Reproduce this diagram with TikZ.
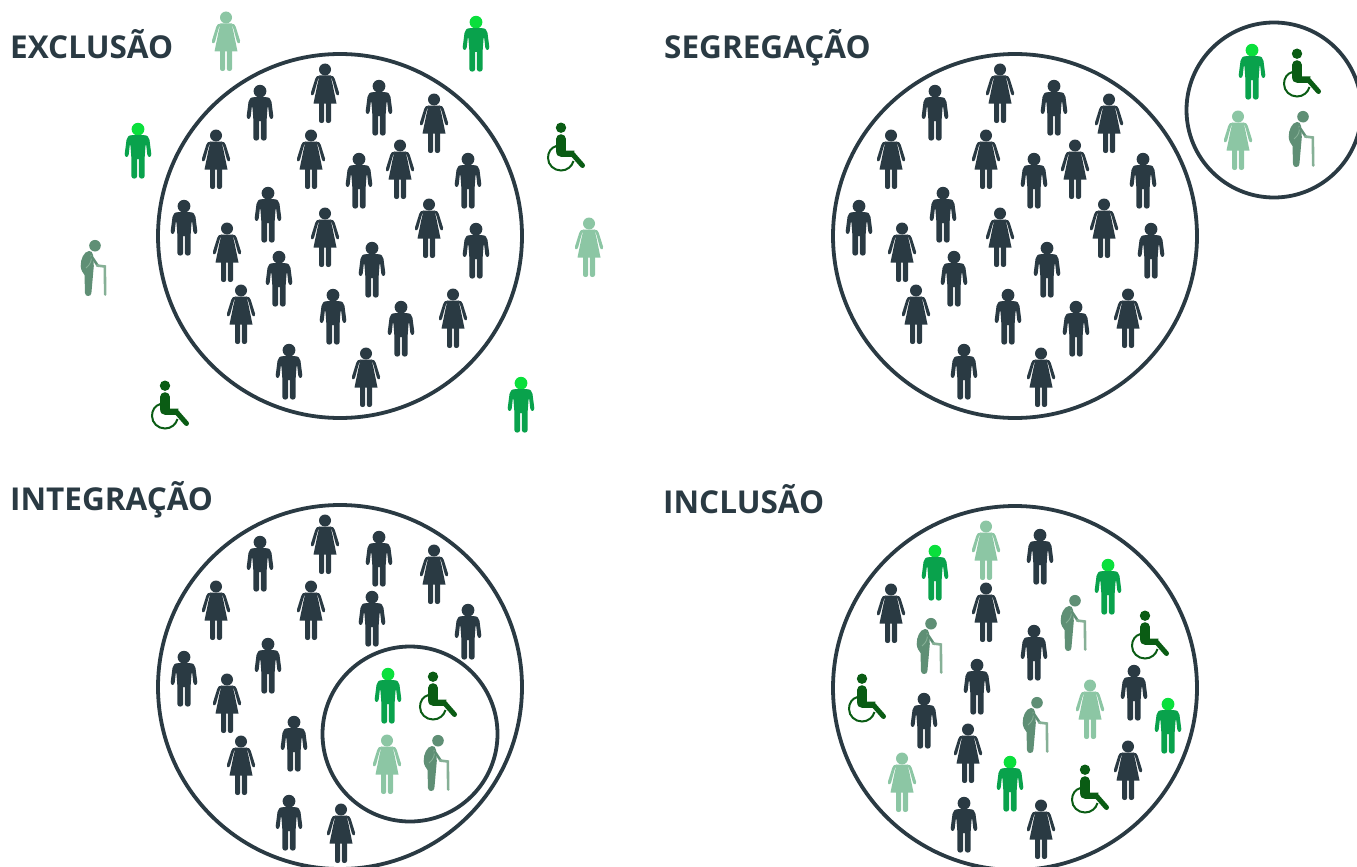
\documentclass[tikz,border=0pt]{standalone}
\usepackage{fontspec}
\setmainfont{Open Sans}
\definecolor{ink}{HTML}{2A3A43}
\definecolor{mangreen}{HTML}{09A24C}
\definecolor{headgreen}{HTML}{0ADF3C}
\definecolor{wheelgreen}{HTML}{0A5C14}
\definecolor{lightgreen}{HTML}{8CC6A4}
\definecolor{eldergreen}{HTML}{5F8F75}
\definecolor{canegreen}{HTML}{86B096}
\tikzset{
  ring/.style={draw=ink,line width=3.8pt,fill=none},
  paneltitle/.style={anchor=base west,font=\bfseries\fontsize{31.5}{32}\selectfont,text=ink,inner sep=0pt},
  pics/manshape/.style n args={2}{code={
    \fill[#2] (0,6.2) circle (6.4);
    \foreach \s in {1,-1}{
      \fill[#1,xscale=\s] (0,12.2) -- (6,12.2) .. controls (9.5,12.2) and (11,14) .. (11.5,17)
        -- (13.3,31) .. controls (13.5,34.5) and (9.8,35) .. (9.3,31.5) -- (8.2,22) -- (7.6,22)
        -- (6.7,34) -- (6.7,53) .. controls (6.7,56.5) and (0.8,56.5) .. (0.8,53) -- (0.8,36) -- (0,36) -- cycle;
    }
  }},
  pics/womanshape/.style n args={2}{code={
    \fill[#2] (0,5.5) circle (6);
    \foreach \s in {1,-1}{
      \fill[#1,xscale=\s] (0,11.5) -- (5.5,11.5) -- (7.5,20) -- (11.5,39.5) -- (0,39.5) -- cycle;
      \fill[#1,xscale=\s] (5,11.5) .. controls (8,11.5) and (9,12.5) .. (9.8,15) -- (14,28.5)
        .. controls (14.8,31.5) and (11.8,32.5) .. (10.9,29.5) -- (7.5,17) -- cycle;
      \fill[#1,xscale=\s] (0.9,39) -- (6,39) -- (6,57) .. controls (6,59.7) and (0.9,59.7) .. (0.9,57) -- cycle;
    }
  }},
  pics/wheelshape/.style={code={
    \fill[wheelgreen] (0,4.7) circle (5.2);
    \draw[wheelgreen,line width=2pt] (-4.5,23) .. controls (-10,24.5) and (-13,29) .. (-13,35)
      .. controls (-13,42) and (-7,47.5) .. (0,47.5) .. controls (6,47.5) and (11,43.5) .. (12.5,38);
    \draw[wheelgreen,line width=9.6pt,line cap=round] (0,16) -- (0,28);
    \fill[wheelgreen] (-4.8,28) .. controls (-4.8,32) and (-3,33.8) .. (0,33.8) -- (12,33.8) -- (13.5,27.5) -- (4.8,27.5) -- cycle;
    \draw[wheelgreen,line width=5pt,line cap=round] (11,30.5) -- (21.5,42.5);
  }},
  pics/eldershape/.style={code={
    \fill[eldergreen] (0,5.7) circle (5.8);
    \fill[eldergreen] (-6,11) .. controls (-11,11.5) and (-14.5,19) .. (-14.3,26)
      .. controls (-14.2,30) and (-12,33) .. (-10.5,35) -- (-10,53) .. controls (-10,57) and (-3.6,57) .. (-3.6,53)
      -- (-1.2,26) -- (-2,15) .. controls (-2.2,12) and (-4,11) .. (-6,11) -- cycle;
    \draw[canegreen,line width=0.9pt] (-4,15) .. controls (-2.5,20) and (-5,25) .. (-9,28);
    \draw[eldergreen,line width=2.6pt,line cap=round] (-3,17) -- (3,26);
    \draw[canegreen,line width=2.6pt,line cap=round] (2,25.5) -- (9.8,26.5) -- (10.2,54.5);
  }},
  pics/darkman/.style={code={\pic{manshape={ink}{ink}};}},
  pics/darkwoman/.style={code={\pic{womanshape={ink}{ink}};}},
  pics/greenman/.style={code={\pic{manshape={mangreen}{headgreen}};}},
  pics/lightwoman/.style={code={\pic{womanshape={lightgreen}{lightgreen}};}},
}
\begin{document}
\begin{tikzpicture}[x=1pt,y=-1pt]
\useasboundingbox (0,0) rectangle (1357,867);
\node[paneltitle] (t1) at (10,59) {EXCLUSÃO};
\node[paneltitle] (t2) at (664,59) {SEGREGAÇÃO};
\node[paneltitle] (t3) at (10,510) {INTEGRAÇÃO};
\node[paneltitle] (t4) at (663,513) {INCLUSÃO};
% circles
\draw[ring] (340,236) circle (182);
\draw[ring] (1015,236) circle (182);
\draw[ring] (1274,110) circle (87.5);
\draw[ring] (340,687) circle (182);
\draw[ring] (410,734) circle (87.5);
\draw[ring] (1015,688) circle (182);
% exclusao + segregacao crowd
\foreach \dx in {0,675}{
  \foreach \x/\y in {260/85,379/80,359/153,468/153,184/200,268/187,476/223,279/251,372/242,333/289,401/301,289/344}
    \pic at (\x+\dx,\y) {darkman};
  \foreach \x/\y in {325/64,434/94,216/130,311/130,400/140,227/223,325/208,429/199,241/285,453/289,366/348}
    \pic at (\x+\dx,\y) {darkwoman};
}
% exclusao outsiders
\foreach \x/\y in {476/16,138/123,521/377} \pic at (\x,\y) {greenman};
\foreach \x/\y in {226/12,589/218} \pic at (\x,\y) {lightwoman};
\foreach \x/\y in {561/123,165/381} \pic at (\x,\y) {wheelshape};
\pic at (95,240) {eldershape};
% segregacao group
\pic at (1252,44) {greenman};
\pic at (1297,49) {wheelshape};
\pic at (1238,111) {lightwoman};
\pic at (1303,111) {eldershape};
% integracao
\foreach \x/\y in {260/536,379/531,372/591,468/604,184/651,268/638,294/716,289/795}
  \pic at (\x,\y) {darkman};
\foreach \x/\y in {325/515,434/545,216/581,311/581,227/674,241/736,341/804}
  \pic at (\x,\y) {darkwoman};
\pic at (388,668) {greenman};
\pic at (433,672) {wheelshape};
\pic at (387,735) {lightwoman};
\pic at (438,735) {eldershape};
% inclusao
\foreach \x/\y in {1040/529,1034/625,977/659,1134/665,924/693,964/797}
  \pic at (\x,\y) {darkman};
\foreach \x/\y in {891/584,986/583,968/724,1128/741,1041/800}
  \pic at (\x,\y) {darkwoman};
\foreach \x/\y in {935/545,1108/559,1168/698,1010/756} \pic at (\x,\y) {greenman};
\foreach \x/\y in {986/521,1090/680,902/753} \pic at (\x,\y) {lightwoman};
\foreach \x/\y in {1145/611,862/674,1085/765} \pic at (\x,\y) {wheelshape};
\foreach \x/\y in {1075/595,931/618,1037/697} \pic at (\x,\y) {eldershape};
\end{tikzpicture}
\end{document}
